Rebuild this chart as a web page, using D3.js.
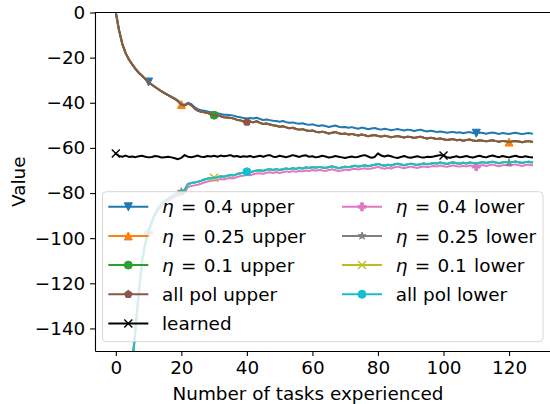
<!DOCTYPE html>
<html>
<head>
<meta charset="utf-8">
<script src="https://cdn.jsdelivr.net/npm/d3@7"></script>
<style>
  body { margin: 0; background: #fff; }
  svg { display: block; font-family: "DejaVu Sans", sans-serif; }
</style>
</head>
<body>
<svg id="chart" width="550" height="404"></svg>
<script>
// ---- data (x = task index 0..127) ----
const X_TICKS = [0, 20, 40, 60, 80, 100, 120];
const Y_TICKS = [0, -20, -40, -60, -80, -100, -120, -140];

const eta04Upper = [
  0, -8, -14, -18, -20.8, -23, -25, -26.7, -28, -29.5,
  -30.8, -32, -33, -34, -35, -35.8, -36.6, -37.4, -38.1, -39.0,
  -40.5, -40.9, -40.0, -40.5, -41.9, -42.8, -43.3, -43.5, -43.9, -44.2,
  -44.6, -44.6, -45.0, -45.3, -45.3, -45.5, -45.7, -46.2, -46.4, -46.8,
  -47.0, -46.8, -47.0, -46.6, -47.2, -47.6, -47.4, -47.7, -48.0, -48.1,
  -48.4, -48.1, -48.6, -48.9, -48.7, -49.1, -49.3, -49.1, -49.5, -49.8,
  -49.5, -50.0, -50.3, -50.0, -50.3, -50.7, -50.4, -50.1, -50.6, -50.9,
  -50.7, -51.1, -50.8, -51.2, -51.5, -51.0, -51.3, -51.7, -51.4, -51.2,
  -51.6, -51.9, -51.5, -51.8, -52.2, -51.9, -51.6, -52.0, -52.3, -51.9,
  -52.1, -52.5, -52.2, -51.9, -52.4, -52.7, -52.4, -52.6, -53.0, -52.7,
  -53.0, -53.3, -53.1, -52.9, -53.3, -53.1, -53.5, -53.2, -53.0, -53.4,
  -53.5, -53.2, -53.4, -53.7, -53.4, -53.2, -53.5, -53.8, -53.4, -53.6,
  -53.8, -53.5, -53.3, -53.6, -53.9, -53.6, -53.4, -53.7
];

const allPolUpper = [
  0, -8, -14, -18, -20.8, -23, -25, -26.7, -28, -29.5,
  -30.8, -32, -33, -34, -35, -35.8, -36.6, -37.5, -38.3, -39.3,
  -40.8, -41.2, -40.4, -41, -42.5, -43.5, -44, -44.2, -44.6, -45,
  -45.5, -45.6, -46, -46.4, -46.5, -46.7, -47, -47.6, -47.8, -48.3,
  -48.5, -48.4, -48.6, -48.2, -48.9, -49.4, -49.2, -49.6, -50, -50.2,
  -50.6, -50.4, -50.9, -51.3, -51.1, -51.6, -51.9, -51.7, -52.2, -52.5,
  -52.3, -52.8, -53.1, -52.8, -53.2, -53.6, -53.3, -53.0, -53.5, -53.8,
  -53.6, -54.1, -53.8, -54.2, -54.5, -54.1, -54.4, -54.8, -54.5, -54.3,
  -54.7, -55.0, -54.6, -54.9, -55.3, -55.0, -54.7, -55.1, -55.4, -55.0,
  -55.2, -55.6, -55.3, -55.0, -55.5, -55.8, -55.5, -55.7, -56.1, -55.8,
  -56.2, -56.5, -56.3, -56.1, -56.6, -56.4, -56.8, -56.5, -56.3, -56.7,
  -56.9, -56.6, -56.8, -57.1, -56.8, -56.6, -57.0, -57.3, -56.9, -57.1,
  -57.4, -57.1, -56.9, -57.2, -57.5, -57.2, -57.0, -57.3
];
// the 0.25 and 0.1 upper curves sit under the "all pol" one
const eta025Upper = allPolUpper;
const eta01Upper = allPolUpper;

const learned = [
  -62.5, -63.6, -63.9, -63.4, -64.0, -63.8, -64.1, -63.7, -63.5, -63.9,
  -64.2, -64.0, -63.6, -63.8, -64.3, -64.1, -63.9, -64.2, -64.6, -65.0,
  -64.4, -63.2, -63.9, -64.1, -63.8, -63.4, -63.9, -64.0, -63.6, -63.8,
  -63.5, -63.9, -63.4, -63.7, -63.5, -63.2, -63.8, -63.6, -64.0, -63.7,
  -63.9, -63.6, -64.1, -63.8, -63.5, -63.9, -63.4, -63.2, -63.9, -64.0,
  -63.5, -63.8, -64.1, -63.7, -63.2, -63.6, -64.0, -63.5, -63.3, -63.9,
  -63.7, -64.2, -63.9, -63.5, -63.8, -64.3, -64.0, -63.6, -63.9, -64.2,
  -64.5, -64.1, -63.8, -64.2, -63.9, -63.5, -63.2, -63.8, -64.4, -64.0,
  -62.4, -63.4, -63.8, -63.4, -63.7, -64.2, -64.5, -64.0, -63.6, -64.1,
  -64.4, -64.0, -63.7, -64.1, -64.3, -63.9, -64.0, -63.8, -63.5, -63.2,
  -63.4, -64.1, -64.4, -64.0, -63.7, -64.2, -63.9, -63.6, -64.0, -64.3,
  -63.8, -63.5, -63.9, -64.2, -63.7, -63.4, -63.8, -64.1, -63.6, -63.9,
  -64.2, -63.8, -63.5, -63.9, -64.1, -63.7, -64.0, -64.2
];

const eta04Lower = [
  -425, -335, -264, -213, -180, -157, -141, -125, -111, -103,
  -97.5, -93.2, -89.8, -87.3, -85.7, -84.4, -83.5, -82.5, -81.7, -81.0,
  -80.6, -79.9, -77.3, -76.9, -76.6, -76.3, -75.9, -75.3, -74.9, -74.6,
  -74.4, -74.2, -73.8, -74.0, -73.5, -73.3, -73.5, -72.9, -72.5, -72.3,
  -71.9, -72.1, -71.7, -71.3, -71.2, -71.5, -71.0, -70.8, -71.1, -70.7,
  -71.1, -70.8, -70.4, -70.7, -70.3, -70.6, -70.1, -70.4, -70.0, -70.2,
  -69.8, -70.1, -69.7, -70.0, -70.2, -69.8, -69.5, -69.9, -70.3, -70.0,
  -69.6, -69.9, -69.5, -69.2, -69.6, -69.3, -69.0, -69.4, -69.1, -68.8,
  -68.4, -68.9, -69.2, -68.8, -69.1, -68.6, -68.3, -68.7, -69.0, -68.6,
  -68.3, -68.6, -68.9, -68.5, -68.2, -68.6, -68.3, -68.0, -68.2, -67.8,
  -68.1, -68.4, -68.0, -67.7, -68.1, -68.3, -67.9, -68.2, -67.8, -68.0,
  -68.3, -67.9, -67.6, -68.0, -67.7, -67.4, -67.8, -68.1, -67.7, -67.5,
  -67.9, -67.6, -67.3, -67.7, -68.0, -67.6, -67.4, -67.7
];

const allPolLower = [
  -420, -330, -260, -210, -178, -156, -140, -124, -110, -102,
  -97, -92.5, -89, -86.5, -84.8, -83.5, -82.5, -81.5, -80.6, -79.9,
  -79.4, -78.6, -76.0, -75.6, -75.3, -75.0, -74.6, -74.0, -73.6, -73.4,
  -73.2, -73.0, -72.6, -72.8, -72.3, -72.0, -72.2, -71.6, -71.2, -71.0,
  -70.6, -70.8, -70.4, -70.0, -69.9, -70.2, -69.7, -69.5, -69.8, -69.4,
  -69.8, -69.5, -69.1, -69.4, -69.0, -69.3, -68.8, -69.1, -68.7, -68.9,
  -68.5, -68.8, -68.4, -68.7, -68.9, -68.5, -68.2, -68.6, -69.0, -68.7,
  -68.3, -68.6, -68.2, -67.9, -68.3, -68.0, -67.7, -68.1, -67.8, -67.5,
  -67.1, -67.6, -67.9, -67.5, -67.8, -67.3, -67.0, -67.4, -67.7, -67.3,
  -67.0, -67.3, -67.6, -67.2, -66.9, -67.3, -67.0, -66.7, -66.9, -66.5,
  -66.8, -67.1, -66.7, -66.4, -66.8, -67.0, -66.6, -66.9, -66.5, -66.7,
  -67.0, -66.6, -66.3, -66.7, -66.4, -66.1, -66.5, -66.8, -66.4, -66.2,
  -66.6, -66.3, -66.0, -66.4, -66.7, -66.3, -66.1, -66.4
];
// 0.25 / 0.1 lower run underneath the "all pol lower" curve
const eta025Lower = allPolLower;
const eta01Lower = allPolLower;

const LABELS = [
  'η = 0.4 upper', 'η = 0.25 upper', 'η = 0.1 upper', 'all pol upper', 'learned',
  'η = 0.4 lower', 'η = 0.25 lower', 'η = 0.1 lower', 'all pol lower'
];
const COLORS = ['#1f77b4', '#ff7f0e', '#2ca02c', '#8c564b', '#000000',
                '#e377c2', '#7f7f7f', '#bcbd22', '#17becf'];
const MARKERS = ['v', '^', 'o', 'p', 'x', 'P', '*', 'x', 'o'];
const MARK_AT = [[10, 110], [20, 120], [30], [40], [0, 100],
                 [10, 110], [20, 120], [30], [40]];
const VALUES = [eta04Upper, eta025Upper, eta01Upper, allPolUpper, learned,
                eta04Lower, eta025Lower, eta01Lower, allPolLower];

// ---- layout ----
const FS = 18.4;
const PLOT = { left: 95, right: 552.8, top: 12.5, bottom: 351 };
const MS = 8;     // marker size px
const LW = 2;     // line width px

const svg = d3.select('#chart');
const xs = d3.scaleLinear().domain([-6.35, 133.35]).range([PLOT.left, PLOT.right]);
const ys = d3.scaleLinear().domain([-150, 0]).range([PLOT.bottom, PLOT.top]);

function markerPath(m, s) {
  const h = s / 2;
  if (m === 'v') return `M0,${h}L${-h},${-h}L${h},${-h}Z`;
  if (m === '^') return `M0,${-h}L${-h},${h}L${h},${h}Z`;
  if (m === 'o') return d3.symbol().type(d3.symbolCircle).size(Math.PI * h * h)();
  if (m === 'p') {
    const p = d3.range(5).map(k => {
      const a = -Math.PI / 2 + k * 2 * Math.PI / 5;
      return [h * Math.cos(a), h * Math.sin(a)];
    });
    return 'M' + p.join('L') + 'Z';
  }
  if (m === '*') {
    const p = d3.range(10).map(k => {
      const a = -Math.PI / 2 + k * Math.PI / 5;
      const r = k % 2 ? h * 0.381966 : h;
      return [r * Math.cos(a), r * Math.sin(a)];
    });
    return 'M' + p.join('L') + 'Z';
  }
  if (m === 'P') {
    const t = s / 6;
    return `M${-t},${-h}H${t}V${-t}H${h}V${t}H${t}V${h}H${-t}V${t}H${-h}V${-t}H${-t}Z`;
  }
  // 'x'
  return `M${-h},${-h}L${h},${h}M${-h},${h}L${h},${-h}`;
}

function drawMarker(g, m, color, px, py) {
  g.append('path')
    .attr('transform', `translate(${px},${py})`)
    .attr('d', markerPath(m, MS))
    .attr('stroke', color)
    .attr('stroke-width', m === 'x' ? 1.4 : 1)
    .attr('fill', m === 'x' ? 'none' : color);
}

// clip
svg.append('defs').append('clipPath').attr('id', 'clip')
  .append('rect')
  .attr('x', PLOT.left).attr('y', PLOT.top)
  .attr('width', PLOT.right - PLOT.left).attr('height', PLOT.bottom - PLOT.top);

// --- series ---
const gData = svg.append('g').attr('clip-path', 'url(#clip)');
const line = d3.line().x((d, i) => xs(i)).y(d => ys(d));

VALUES.forEach((vals, k) => {
  gData.append('path')
    .attr('d', line(vals))
    .attr('fill', 'none')
    .attr('stroke', COLORS[k])
    .attr('stroke-width', LW)
    .attr('stroke-linejoin', 'round')
    .attr('stroke-linecap', 'square');
  MARK_AT[k].forEach(i => {
    if (i < vals.length) drawMarker(gData, MARKERS[k], COLORS[k], xs(i), ys(vals[i]));
  });
});

// --- axes ---
const gx = svg.append('g')
  .attr('transform', `translate(0,${PLOT.bottom})`)
  .call(d3.axisBottom(xs).tickValues(X_TICKS).tickSize(4.9).tickPadding(4.8).tickSizeOuter(0));
const gy = svg.append('g')
  .attr('transform', `translate(${PLOT.left},0)`)
  .call(d3.axisLeft(ys).tickValues(Y_TICKS).tickSize(4.9).tickPadding(4.8).tickSizeOuter(0));

[gx, gy].forEach(g => {
  g.attr('font-size', FS).attr('font-family', '"DejaVu Sans", sans-serif');
  g.selectAll('path.domain').attr('stroke', '#000').attr('stroke-width', 1.1);
  g.selectAll('.tick line').attr('stroke', '#000').attr('stroke-width', 1.1);
  g.selectAll('.tick text').attr('fill', '#000');
});

// top / right spines
svg.append('line')
  .attr('x1', PLOT.left).attr('x2', PLOT.right)
  .attr('y1', PLOT.top).attr('y2', PLOT.top)
  .attr('stroke', '#000').attr('stroke-width', 1.1);
svg.append('line')
  .attr('x1', PLOT.right).attr('x2', PLOT.right)
  .attr('y1', PLOT.top).attr('y2', PLOT.bottom)
  .attr('stroke', '#000').attr('stroke-width', 1.1);

// axis labels
svg.append('text')
  .attr('x', 308).attr('y', 399.5)
  .attr('text-anchor', 'middle').attr('font-size', FS)
  .text('Number of tasks experienced');
svg.append('text')
  .attr('transform', `translate(25,${(PLOT.top + PLOT.bottom) / 2}) rotate(-90)`)
  .attr('text-anchor', 'middle').attr('font-size', FS)
  .text('Value');

// --- legend ---
const gLeg = svg.append('g');
gLeg.append('rect')
  .attr('x', 102.5).attr('y', 191.7)
  .attr('width', 440.5).attr('height', 150)
  .attr('rx', 3.6)
  .attr('fill', '#fff').attr('fill-opacity', 0.8)
  .attr('stroke', '#cccccc').attr('stroke-opacity', 0.8).attr('stroke-width', 1);

const COL_X = [108.3, 342];
const ROW_Y0 = 206.8, ROW_DY = 29.15, HANDLE = 40, TEXT_GAP = 13.7;

LABELS.forEach((lab, k) => {
  const col = k < 5 ? 0 : 1;
  const row = k < 5 ? k : k - 5;
  const hx = COL_X[col], hy = ROW_Y0 + row * ROW_DY;
  gLeg.append('line')
    .attr('x1', hx).attr('x2', hx + HANDLE)
    .attr('y1', hy).attr('y2', hy)
    .attr('stroke', COLORS[k]).attr('stroke-width', LW);
  drawMarker(gLeg, MARKERS[k], COLORS[k], hx + HANDLE / 2, hy);
  const t = gLeg.append('text')
    .attr('x', hx + HANDLE + TEXT_GAP).attr('y', hy + 6.6)
    .attr('font-size', FS);
  if (lab.startsWith('η')) {
    // mathtext spacing is a little wider than plain text
    t.attr('word-spacing', 1.5);
    t.append('tspan').attr('font-style', 'italic').text('η');
    t.append('tspan').text(lab.slice(1));
  } else {
    t.text(lab);
  }
});
</script>
</body>
</html>
